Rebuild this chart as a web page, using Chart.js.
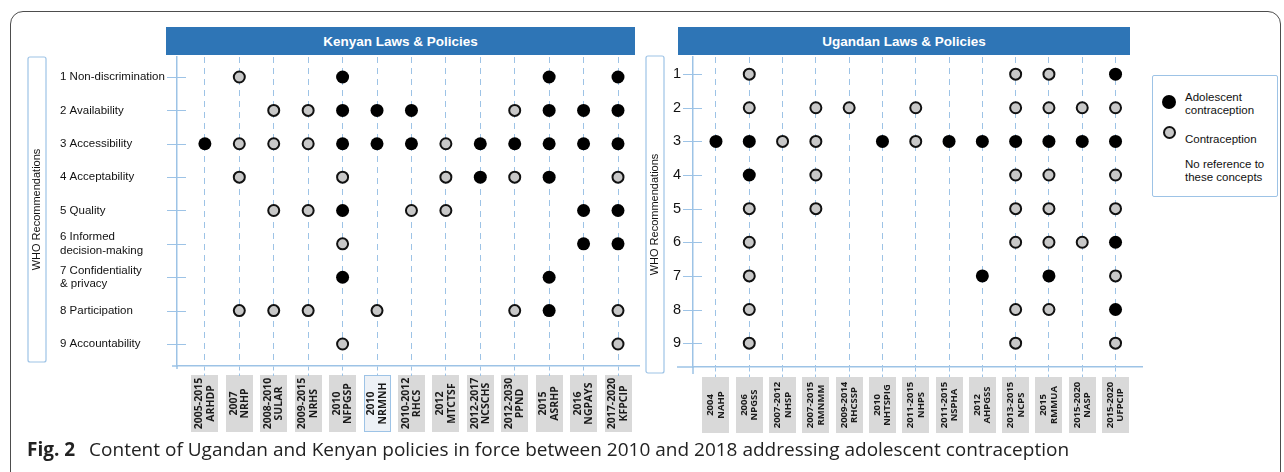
<!DOCTYPE html>
<html>
<head>
<meta charset="utf-8">
<script src="https://cdn.jsdelivr.net/npm/chart.js@4"></script>
<style>
  body { margin: 0; width: 1284px; height: 472px; overflow: hidden; position: relative; background: #fff; font-family: 'Liberation Sans', Arial, sans-serif; }
  .frame { position: absolute; left: 10px; top: 11px; width: 1271px; height: 490px; border: 1.5px solid #4d4d4d; border-radius: 13px; box-sizing: border-box; }
  .bar { position: absolute; top: 27px; height: 28px; background: #2e75b6; color: #fff; font-weight: bold; font-size: 13.5px; display: flex; align-items: center; justify-content: center; }
  canvas { position: absolute; top: 0; }
  .legend { position: absolute; left: 1152px; top: 75px; width: 126px; height: 122px; border: 1.5px solid #9dc3e6; border-radius: 2px; box-sizing: border-box; font-size: 11.5px; color: #111; }
  .legend .dot { position: absolute; border-radius: 50%; box-sizing: border-box; }
  .legend .txt { position: absolute; left: 32px; line-height: 13px; }
  .caption { position: absolute; left: 27px; top: 436px; font-family: 'Open Sans', 'Noto Sans', sans-serif; font-size: 19px; color: #222; white-space: nowrap; }
  .caption b { font-weight: bold; margin-right: 9px; }
</style>
</head>
<body>
<div class="frame"></div>
<div class="bar" style="left:166px; width:469px;">Kenyan Laws &amp; Policies</div>
<div class="bar" style="left:678px; width:452px;">Ugandan Laws &amp; Policies</div>
<canvas id="kenya" width="650" height="440" style="left:0px;"></canvas>
<canvas id="uganda" width="510" height="440" style="left:640px;"></canvas>
<div class="legend">
  <div class="dot" style="left:9px; top:19px; width:14px; height:14px; background:#000;"></div>
  <div class="txt" style="top:15px;">Adolescent<br>contraception</div>
  <div class="dot" style="left:10px; top:50px; width:13px; height:13px; background:#c8c8c8; border:2px solid #111;"></div>
  <div class="txt" style="top:57px;">Contraception</div>
  <div class="txt" style="top:82px;">No reference to<br>these concepts</div>
</div>
<div class="caption"><b>Fig. 2</b> Content of Ugandan and Kenyan policies in force between 2010 and 2018 addressing adolescent contraception</div>
<script>
// Kenyan policies (x axis)
const kenyaYears = ['2005-2015', '2007', '2008-2010', '2009-2015', '2010', '2010', '2010-2012', '2012', '2012-2017', '2012-2030', '2015', '2016', '2017-2020'];
const kenyaCodes = ['ARHDP', 'NRHP', 'SULAR', 'NRHS', 'NFPGSP', 'NRMNH', 'RHCS', 'MTCTSF', 'NCSCHS', 'PPND', 'ASRHP', 'NGPAYS', 'KFPCIP'];
// WHO recommendations (y axis)
const kenyaRecs = ['1 Non-discrimination', '2 Availability', '3 Accessibility', '4 Acceptability', '5 Quality',
  ['6 Informed', 'decision-making'], ['7 Confidentiality', '& privacy'], '8 Participation', '9 Accountability'];
// for each recommendation: indexes of the policies that mention it
const kenyaAdolescent = [[4, 10, 12], [4, 5, 6, 10, 11, 12], [0, 4, 5, 6, 8, 9, 10, 11, 12], [8, 10], [4, 11, 12], [11, 12], [4, 10], [10], []];
const kenyaContraception = [[1], [2, 3, 9], [1, 2, 3, 7], [1, 4, 7, 9, 12], [2, 3, 6, 7], [4], [], [1, 2, 3, 5, 9, 12], [4, 12]];

// Ugandan policies
const ugandaYears = ['2004', '2006', '2007-2012', '2007-2015', '2009-2014', '2010', '2011-2015', '2011-2015', '2012', '2013-2015', '2015', '2015-2020', '2015-2020'];
const ugandaCodes = ['NAHP', 'NPGSS', 'NHSP', 'RMNMM', 'RHCSSP', 'NHTSPIG', 'NHPS', 'NSPHA', 'AHPGSS', 'NCPS', 'RMMUA', 'NASP', 'UFPCIP'];
const ugandaRecs = ['1', '2', '3', '4', '5', '6', '7', '8', '9'];
const ugandaAdolescent = [[12], [], [0, 1, 5, 7, 8, 9, 10, 11, 12], [1], [], [12], [8, 10], [12], []];
const ugandaContraception = [[1, 9, 10], [1, 3, 4, 6, 9, 10, 11, 12], [2, 3, 6], [3, 9, 10, 12], [1, 3, 9, 10, 12], [1, 9, 10, 11], [1, 12], [1, 9, 10], [1, 9, 12]];

const lineBlue = '#9dc3e6';
Chart.defaults.font.family = "'Liberation Sans', Arial, sans-serif";

function toPoints(rows) {
    return rows.flatMap((cols, r) => cols.map(c => ({ x: c, y: r + 1 })));
}

// boxes under the x axis, WHO box, small axis details
const panelDecor = {
    id: 'panelDecor',
    beforeDraw(chart, args, o) {
        const ctx = chart.ctx;
        const xs = chart.scales.x;
        ctx.save();
        o.years.forEach((year, i) => {
            const x = xs.getPixelForValue(i);
            const left = Math.round(x - o.boxW / 2);
            if (i === o.highlight) {
                ctx.fillStyle = '#edf1f6';
                ctx.fillRect(left, o.boxTop, o.boxW, o.boxH);
                ctx.strokeStyle = lineBlue;
                ctx.lineWidth = 1;
                ctx.strokeRect(left + 0.5, o.boxTop + 0.5, o.boxW - 1, o.boxH - 1);
            } else {
                ctx.fillStyle = '#d9d9d9';
                ctx.fillRect(left, o.boxTop, o.boxW, o.boxH);
            }
            ctx.save();
            ctx.translate(x, o.boxTop + o.boxH / 2);
            ctx.rotate(-Math.PI / 2);
            ctx.fillStyle = '#1a1a1a';
            ctx.font = 'bold ' + o.fontSize + "px 'Open Sans', 'Noto Sans', sans-serif";
            ctx.textAlign = 'center';
            ctx.textBaseline = 'middle';
            ctx.fillText(year, 0, -o.lineGap / 2);
            ctx.fillText(o.codes[i], 0, o.lineGap / 2);
            ctx.restore();
        });
        // WHO Recommendations box
        ctx.strokeStyle = lineBlue;
        ctx.lineWidth = 1.2;
        ctx.beginPath();
        ctx.roundRect(o.whoX - 9, o.whoTop, 18, o.whoBottom - o.whoTop, 2);
        ctx.stroke();
        ctx.translate(o.whoX, (o.whoTop + o.whoBottom) / 2);
        ctx.rotate(-Math.PI / 2);
        ctx.fillStyle = '#111';
        ctx.font = "11px 'Liberation Sans', Arial, sans-serif";
        ctx.textAlign = 'center';
        ctx.textBaseline = 'middle';
        ctx.fillText('WHO Recommendations', 0, 0);
        ctx.restore();
    },
    beforeDatasetsDraw(chart, args, o) {
        const ctx = chart.ctx;
        const ys = chart.scales.y;
        const area = chart.chartArea;
        ctx.save();
        ctx.strokeStyle = lineBlue;
        ctx.lineWidth = 1.2;
        ctx.beginPath();
        ys.ticks.forEach(t => {
            const y = Math.round(ys.getPixelForValue(t.value)) + 0.5;
            ctx.moveTo(area.left - 10, y);
            ctx.lineTo(area.left + 9, y);
        });
        ctx.stroke();
        ctx.lineWidth = 1.5;
        ctx.beginPath();
        ctx.moveTo(area.left - o.extLeft, area.bottom);
        ctx.lineTo(area.left, area.bottom);
        ctx.moveTo(area.left, area.bottom);
        ctx.lineTo(area.left, area.bottom + o.extDown);
        ctx.stroke();
        ctx.restore();
    }
};

function drawPanel(id, p) {
    new Chart(document.getElementById(id), {
        type: 'scatter',
        data: {
            datasets: [
                {
                    label: 'Adolescent contraception',
                    data: toPoints(p.adolescent),
                    pointRadius: 6.5,
                    backgroundColor: '#000',
                    borderColor: '#000',
                    borderWidth: 0
                },
                {
                    label: 'Contraception',
                    data: toPoints(p.contraception),
                    pointRadius: 5.5,
                    backgroundColor: '#c8c8c8',
                    borderColor: '#111',
                    borderWidth: 2
                }
            ]
        },
        options: {
            responsive: false,
            animation: false,
            events: [],
            layout: { padding: p.padding },
            plugins: {
                legend: { display: false },
                tooltip: { enabled: false },
                panelDecor: p.decor
            },
            scales: {
                x: {
                    type: 'linear',
                    min: p.xMin,
                    max: p.xMax,
                    afterBuildTicks: s => { s.ticks = p.decor.years.map((_, i) => ({ value: i })); },
                    afterFit: s => { s.height = p.xHeight; },
                    ticks: { display: false },
                    grid: { color: lineBlue, lineWidth: 1, tickLength: 10, tickColor: lineBlue, tickBorderDash: [4, 3] },
                    border: { color: lineBlue, width: 1.5, dash: [6, 5] }
                },
                y: {
                    type: 'linear',
                    reverse: true,
                    min: p.yMin,
                    max: p.yMax,
                    afterBuildTicks: s => { s.ticks = p.recs.map((_, i) => ({ value: i + 1 })); },
                    afterFit: s => { s.width = p.yWidth; },
                    ticks: {
                        callback: v => p.recs[v - 1],
                        font: { size: p.tickSize, lineHeight: 1.15 },
                        color: '#111',
                        crossAlign: p.crossAlign,
                        padding: 12
                    },
                    grid: { drawOnChartArea: false, drawTicks: false, color: lineBlue },
                    border: { color: lineBlue, width: 1.5 }
                }
            }
        },
        plugins: [panelDecor]
    });
}

drawPanel('kenya', {
    adolescent: kenyaAdolescent,
    contraception: kenyaContraception,
    recs: kenyaRecs,
    padding: { left: 60, top: 57, right: 11, bottom: 0 },
    yWidth: 117,
    xHeight: 74,
    xMin: -0.81, xMax: 12.61,
    yMin: 0.40, yMax: 9.66,
    tickSize: 11.5,
    crossAlign: 'far',
    decor: { years: kenyaYears, codes: kenyaCodes, boxTop: 375, boxH: 57, boxW: 27, fontSize: 10.5, lineGap: 11.5, highlight: 5,
             whoX: 37, whoTop: 57, whoBottom: 362, extLeft: 5, extDown: 3 }
});

drawPanel('uganda', {
    adolescent: ugandaAdolescent,
    contraception: ugandaContraception,
    recs: ugandaRecs,
    padding: { left: 0, top: 57, right: 6, bottom: 0 },
    yWidth: 53,
    xHeight: 73,
    xMin: -0.69, xMax: 12.81,
    yMin: 0.49, yMax: 9.71,
    tickSize: 14.5,
    crossAlign: 'near',
    decor: { years: ugandaYears, codes: ugandaCodes, boxTop: 377, boxH: 56, boxW: 27, fontSize: 9.5, lineGap: 10.5, highlight: -1,
             whoX: 15, whoTop: 56, whoBottom: 373, extLeft: 16, extDown: 7 }
});
</script>
</body>
</html>
